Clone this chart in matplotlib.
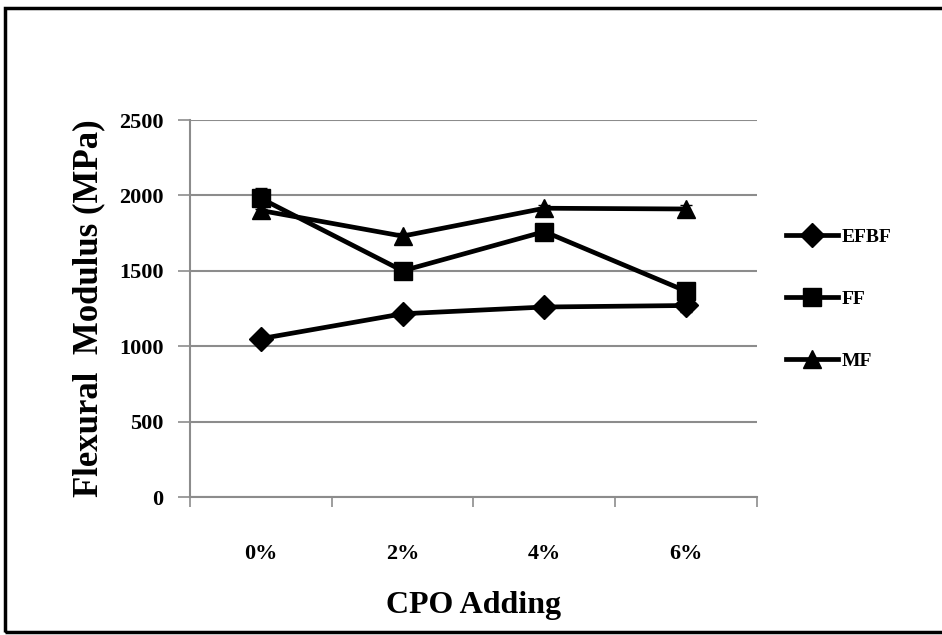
import matplotlib.pyplot as plt
import matplotlib.patches as patches
import numpy as np

categories = ["0%", "2%", "4%", "6%"]
efbf = [1050, 1215, 1260, 1270]
ff = [1980, 1500, 1760, 1365]
mf = [1900, 1730, 1915, 1910]
efbf_err = [15, 20, 30, 45]
ff_err = [70, 40, 30, 35]
mf_err = [20, 20, 20, 25]

plt.rcParams["font.family"] = ["Liberation Serif", "DejaVu Serif"]
plt.rcParams["font.weight"] = "bold"

fig = plt.figure(figsize=(9.42, 6.35), dpi=100)
ax = fig.add_axes([0.2017, 0.2173, 0.6019, 0.5937])

# frame around the figure (right side runs off the picture)
fig.patches.append(patches.Rectangle((5 / 942, 3 / 635), 1.0, 624 / 635,
                                     transform=fig.transFigure, fill=False,
                                     edgecolor="black", linewidth=2.5))

x = np.arange(len(categories))
series = [("EFBF", efbf, efbf_err, "D"), ("FF", ff, ff_err, "s"), ("MF", mf, mf_err, "^")]
for name, vals, err, mk in series:
    ax.errorbar(x, vals, yerr=err, fmt="none", ecolor="black", capsize=4,
                elinewidth=1.5, zorder=3)
    ax.plot(x, vals, color="black", linewidth=3.4, marker=mk, markersize=12.5,
            label=name, zorder=4)

ax.set_xlim(-0.5, 3.5)
ax.set_ylim(0, 2500)
ax.set_yticks(np.arange(0, 2501, 500))
ax.yaxis.grid(True, color="#8c8c8c", linewidth=1.5)
ax.set_axisbelow(True)

ax.set_xticks(x)
ax.set_xticklabels(categories, fontsize=16, fontweight="bold")
ax.set_xticks(np.arange(-0.5, 3.6, 1), minor=True)
ax.tick_params(axis="x", which="major", length=0, pad=34)
ax.tick_params(axis="x", which="minor", length=7, width=1.2, color="#8c8c8c")
ax.tick_params(axis="y", length=9, width=1.2, color="#8c8c8c", labelsize=16, pad=10)
for lbl in ax.get_yticklabels():
    lbl.set_fontweight("bold")

for s in ["top", "right"]:
    ax.spines[s].set_visible(False)
for s in ["left", "bottom"]:
    ax.spines[s].set_color("#8c8c8c")
    ax.spines[s].set_linewidth(1.5)

ax.set_xlabel("CPO Adding", fontsize=23, fontweight="bold", labelpad=19)
ax.set_ylabel("Flexural  Modulus (MPa)", fontsize=25, fontweight="bold", labelpad=10)

ax.legend(loc="center left", bbox_to_anchor=(1.02, 0.525), frameon=False,
          prop={"weight": "bold", "size": 14}, handlelength=2.7,
          handletextpad=0.15, labelspacing=2.3)

fig.savefig("out.png", dpi=100)
